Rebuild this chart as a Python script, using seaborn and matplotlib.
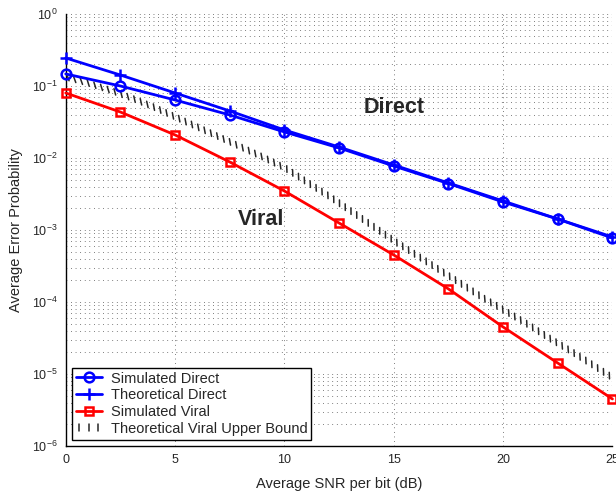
import numpy as np
import matplotlib
matplotlib.use("Agg")
import matplotlib.pyplot as plt
import matplotlib.patheffects as pe
from matplotlib.lines import Line2D
from matplotlib.ticker import LogLocator, NullFormatter
import seaborn as sns

# data
snr_db = [0, 2.5, 5, 7.5, 10, 12.5, 15, 17.5, 20, 22.5, 25]
sim_direct = [0.147, 0.100, 0.0639, 0.0396, 0.0230, 0.0138, 0.00774, 0.00442, 0.00245, 0.00142, 7.74e-4]
theo_direct = [0.245, 0.142, 0.080, 0.045, 0.0245, 0.0142, 0.0080, 0.0045, 0.00253, 0.00142, 8.0e-4]
sim_viral = [0.080, 0.0435, 0.0209, 0.0088, 0.00348, 0.00125, 4.5e-4, 1.52e-4, 4.5e-5, 1.42e-5, 4.5e-6]

bound_db = list(range(26))
theo_viral_bound = [0.133, 0.110, 0.0880, 0.0681, 0.0511, 0.0371, 0.0270, 0.0196, 0.0142, 0.0103,
                    0.00727, 0.00464, 0.00297, 0.00184, 0.00114, 7.04e-4, 4.50e-4, 2.87e-4, 1.84e-4,
                    1.17e-4, 7.74e-5, 5.11e-5, 3.27e-5, 2.15e-5, 1.38e-5, 8.8e-6]

sns.set_style("white")
plt.rcParams['font.family'] = ['Liberation Sans', 'DejaVu Sans']
plt.rcParams['mathtext.default'] = 'regular'

fig = plt.figure(figsize=(6.16, 4.96), dpi=100)
ax = fig.add_axes([0.1067, 0.1008, 0.8875, 0.871])
ax.set_yscale('log')

# hatch-like stroke for the theoretical bound
def ticked(angle):
    return [pe.withTickedStroke(offset=(0, -2), spacing=5, angle=angle, length=0.95,
                                linewidth=1.1, foreground='0.15')]

sns.lineplot(x=snr_db, y=sim_direct, ax=ax, color='b', lw=2, marker='o', ms=7,
             markerfacecolor='none', markeredgecolor='b', markeredgewidth=1.8,
             label='Simulated Direct', clip_on=False, zorder=4)
sns.lineplot(x=snr_db, y=theo_direct, ax=ax, color='b', lw=2, marker='+', ms=8,
             markeredgecolor='b', markeredgewidth=1.8,
             label='Theoretical Direct', clip_on=False, zorder=4)
sns.lineplot(x=snr_db, y=sim_viral, ax=ax, color='r', lw=2, marker='s', ms=6,
             markerfacecolor='none', markeredgecolor='r', markeredgewidth=1.8,
             label='Simulated Viral', clip_on=False, zorder=4)
sns.lineplot(x=bound_db, y=theo_viral_bound, ax=ax, color='none', lw=1,
             path_effects=ticked(125), label='Theoretical Viral Upper Bound', zorder=3)

ax.set_xlim(0, 25)
ax.set_ylim(1e-6, 1)
ax.set_xticks([0, 5, 10, 15, 20, 25])
ax.yaxis.set_major_locator(LogLocator(base=10, numticks=10))
ax.yaxis.set_minor_locator(LogLocator(base=10, subs=np.arange(2, 10), numticks=20))
ax.yaxis.set_minor_formatter(NullFormatter())

grid_style = dict(color='0.2', lw=0.55, ls=(0, (1, 5)))
ax.grid(True, which='major', axis='both', **grid_style)
ax.grid(True, which='minor', axis='y', **grid_style)

ax.tick_params(which='major', direction='in', length=5, width=0.8, labelsize=9, pad=6, color='k')
ax.tick_params(which='minor', direction='in', length=3, width=0.6, color='k')
ax.tick_params(axis='x', which='minor', bottom=False)
for s in ['top', 'right']:
    ax.spines[s].set_visible(False)
for s in ['left', 'bottom']:
    ax.spines[s].set_color('k')
    ax.spines[s].set_linewidth(1.0)

ax.set_xlabel('Average SNR per bit (dB)', fontsize=10.5, labelpad=8)
ax.set_ylabel('Average Error Probability', fontsize=10.5, labelpad=6)

ax.text(15, 0.051, 'Direct', fontsize=15.5, fontweight='bold', ha='center', va='center')
ax.text(8.93, 0.00138, 'Viral', fontsize=15.5, fontweight='bold', ha='center', va='center')

handles, labels = ax.get_legend_handles_labels()
handles[-1] = Line2D([], [], color='none', lw=1, path_effects=ticked(90))
leg = ax.legend(handles, labels, loc='lower left', bbox_to_anchor=(0.0115, 0.014),
                borderaxespad=0, fontsize=10.5, frameon=True, fancybox=False,
                edgecolor='k', framealpha=1, handlelength=1.8, handletextpad=0.6,
                labelspacing=0.2, borderpad=0.25)
leg.get_frame().set_linewidth(1.0)

fig.savefig('out.png', dpi=100)
